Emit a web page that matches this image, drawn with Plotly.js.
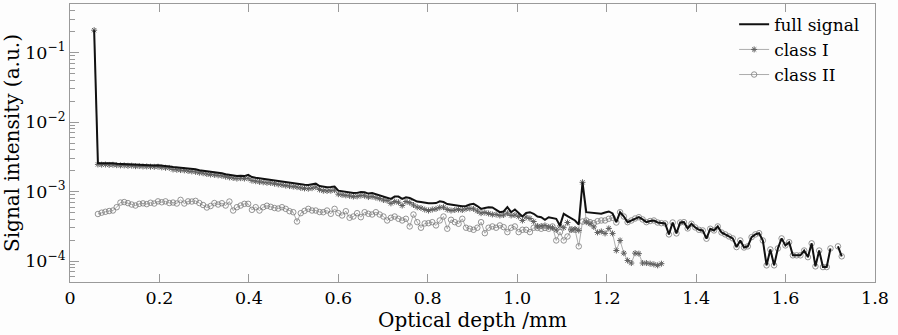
<!DOCTYPE html>
<html>
<head>
<meta charset="utf-8">
<script src="https://cdn.plot.ly/plotly-3.0.1.min.js"></script>
<style>html,body{margin:0;padding:0;background:#fdfdfd;}#chart{width:898px;height:335px;}</style>
</head>
<body>
<div id="chart"></div>
<script>
// Sampling grid of the depth axis (mm)
const depthStart = 0.054;
const depthStep = 0.0084;

// Full signal (a.u.)
const fullSignal = [
0.21,2.58e-3,2.56e-3,2.57e-3,2.54e-3,2.55e-3,2.52e-3,2.50e-3,2.50e-3,2.47e-3,
2.48e-3,2.44e-3,2.45e-3,2.42e-3,2.42e-3,2.40e-3,2.38e-3,2.39e-3,2.34e-3,2.31e-3,
2.30e-3,2.26e-3,2.24e-3,2.21e-3,2.19e-3,2.15e-3,2.12e-3,2.09e-3,2.03e-3,2.00e-3,
1.94e-3,1.91e-3,1.89e-3,1.86e-3,1.83e-3,1.78e-3,1.74e-3,1.70e-3,1.67e-3,1.69e-3,
1.67e-3,1.74e-3,1.62e-3,1.58e-3,1.55e-3,1.53e-3,1.50e-3,1.49e-3,1.46e-3,1.42e-3,
1.40e-3,1.37e-3,1.35e-3,1.32e-3,1.30e-3,1.27e-3,1.25e-3,1.24e-3,1.26e-3,1.30e-3,
1.20e-3,1.16e-3,1.15e-3,1.16e-3,1.18e-3,1.03e-3,1.01e-3,9.90e-4,9.74e-4,9.52e-4,
9.58e-4,9.84e-4,9.77e-4,9.36e-4,9.52e-4,9.18e-4,8.91e-4,8.48e-4,8.34e-4,7.86e-4,
8.48e-4,8.48e-4,7.86e-4,8.28e-4,8.07e-4,7.55e-4,7.19e-4,7.07e-4,6.88e-4,6.80e-4,
6.80e-4,6.84e-4,7.26e-4,7.07e-4,6.62e-4,6.45e-4,6.34e-4,6.26e-4,6.16e-4,6.20e-4,
6.51e-4,6.66e-4,6.20e-4,5.64e-4,5.80e-4,5.96e-4,5.90e-4,5.43e-4,5.05e-4,5.17e-4,
5.96e-4,5.05e-4,5.52e-4,4.92e-4,4.38e-4,4.92e-4,5.05e-4,4.79e-4,4.38e-4,4.28e-4,
3.93e-4,4.28e-4,4.17e-4,4.06e-4,3.26e-4,4.79e-4,4.45e-4,4.17e-4,3.84e-4,3.36e-4,
1.36e-3,5.05e-4,5.00e-4,4.89e-4,4.92e-4,4.79e-4,5.00e-4,5.17e-4,4.84e-4,3.63e-4,
5.05e-4,4.38e-4,3.63e-4,3.84e-4,4.10e-4,4.28e-4,3.97e-4,3.63e-4,3.77e-4,3.84e-4,
3.59e-4,3.51e-4,3.48e-4,2.42e-4,3.59e-4,2.50e-4,3.59e-4,3.63e-4,2.95e-4,3.44e-4,
3.05e-4,2.82e-4,2.76e-4,2.10e-4,2.92e-4,2.76e-4,3.15e-4,2.58e-4,2.42e-4,2.26e-4,
2.12e-4,1.59e-4,1.98e-4,1.57e-4,1.63e-4,2.21e-4,2.42e-4,2.52e-4,1.98e-4,8.68e-5,
1.47e-4,8.68e-5,1.52e-4,2.12e-4,1.68e-4,1.87e-4,1.21e-4,1.21e-4,1.21e-4,1.42e-4,
1.14e-4,1.80e-4,8.39e-5,1.42e-4,8.20e-5,8.20e-5,1.52e-4,null,1.63e-4,1.17e-4
];

// Class I (a.u.)
const classOne = [
0.21,2.46e-3,2.44e-3,2.45e-3,2.42e-3,2.43e-3,2.40e-3,2.38e-3,2.38e-3,2.35e-3,
2.36e-3,2.32e-3,2.33e-3,2.30e-3,2.30e-3,2.28e-3,2.27e-3,2.28e-3,2.23e-3,2.20e-3,
2.19e-3,2.08e-3,2.06e-3,2.04e-3,2.02e-3,1.98e-3,1.95e-3,1.92e-3,1.87e-3,1.84e-3,
1.79e-3,1.76e-3,1.74e-3,1.71e-3,1.69e-3,1.64e-3,1.60e-3,1.57e-3,1.54e-3,1.56e-3,
1.54e-3,1.55e-3,1.44e-3,1.41e-3,1.38e-3,1.36e-3,1.34e-3,1.33e-3,1.30e-3,1.27e-3,
1.25e-3,1.22e-3,1.20e-3,1.18e-3,1.16e-3,1.13e-3,1.11e-3,1.10e-3,1.12e-3,1.16e-3,
1.07e-3,1.03e-3,1.02e-3,1.03e-3,1.05e-3,9.18e-4,9.00e-4,8.82e-4,8.68e-4,8.48e-4,
8.54e-4,8.77e-4,8.71e-4,8.34e-4,8.48e-4,8.18e-4,7.94e-4,7.56e-4,7.43e-4,6.77e-4,
7.19e-4,7.02e-4,6.30e-4,7.19e-4,6.95e-4,6.41e-4,5.96e-4,5.80e-4,5.52e-4,5.34e-4,
5.52e-4,5.64e-4,5.90e-4,5.96e-4,5.52e-4,5.34e-4,5.43e-4,5.52e-4,5.43e-4,5.64e-4,
5.70e-4,5.64e-4,5.25e-4,4.89e-4,5.00e-4,4.84e-4,4.68e-4,4.68e-4,4.53e-4,4.60e-4,
4.89e-4,4.53e-4,4.60e-4,4.38e-4,3.84e-4,4.28e-4,4.10e-4,3.71e-4,3.18e-4,3.20e-4,
3.26e-4,3.10e-4,3.02e-4,2.80e-4,3.20e-4,3.02e-4,3.59e-4,2.82e-4,2.90e-4,2.76e-4,
1.36e-3,3.63e-4,3.44e-4,3.10e-4,2.58e-4,2.67e-4,2.50e-4,2.95e-4,2.50e-4,1.42e-4,
1.98e-4,1.30e-4,1.02e-4,9.37e-5,1.30e-4,1.28e-4,9.37e-5,9.37e-5,9.18e-5,8.97e-5,
8.68e-5,9.18e-5
];

// Class II (a.u.)
const classTwo = [
null,4.76e-4,4.97e-4,5.12e-4,5.25e-4,5.34e-4,5.96e-4,6.95e-4,7.07e-4,6.82e-4,
6.51e-4,6.30e-4,6.66e-4,6.77e-4,6.60e-4,6.91e-4,6.73e-4,7.23e-4,7.02e-4,7.23e-4,
6.84e-4,6.95e-4,6.73e-4,7.60e-4,6.73e-4,7.23e-4,7.19e-4,7.35e-4,6.84e-4,6.41e-4,
5.90e-4,6.20e-4,6.84e-4,6.51e-4,6.80e-4,6.30e-4,7.19e-4,5.34e-4,5.96e-4,6.30e-4,
6.66e-4,6.66e-4,5.46e-4,5.96e-4,5.34e-4,5.96e-4,6.26e-4,6.03e-4,5.80e-4,5.70e-4,
5.96e-4,5.64e-4,5.22e-4,5.05e-4,3.71e-4,4.89e-4,5.28e-4,5.64e-4,5.34e-4,5.34e-4,
5.08e-4,5.05e-4,5.34e-4,4.79e-4,5.64e-4,4.89e-4,4.53e-4,5.22e-4,4.20e-4,4.38e-4,
4.89e-4,4.28e-4,5.05e-4,4.79e-4,4.68e-4,5.05e-4,4.68e-4,4.38e-4,3.84e-4,4.20e-4,
4.38e-4,4.06e-4,3.84e-4,4.06e-4,3.15e-4,4.68e-4,3.63e-4,3.02e-4,3.48e-4,3.51e-4,
3.63e-4,3.26e-4,3.84e-4,4.38e-4,2.92e-4,3.93e-4,3.63e-4,3.44e-4,4.06e-4,3.02e-4,
2.92e-4,2.82e-4,3.02e-4,3.63e-4,2.52e-4,3.02e-4,3.15e-4,3.02e-4,3.26e-4,3.08e-4,
2.61e-4,3.02e-4,3.15e-4,2.61e-4,2.82e-4,2.82e-4,2.61e-4,3.02e-4,3.00e-4,2.92e-4,
3.00e-4,2.92e-4,3.15e-4,1.98e-4,2.61e-4,1.98e-4,2.26e-4,2.85e-4,2.82e-4,1.63e-4,
3.71e-4,3.84e-4,3.63e-4,3.51e-4,3.75e-4,3.84e-4,3.84e-4,4.06e-4,4.20e-4,3.59e-4,
5.05e-4,4.38e-4,3.63e-4,3.84e-4,4.10e-4,4.28e-4,3.97e-4,3.63e-4,3.77e-4,3.84e-4,
3.59e-4,3.51e-4,3.48e-4,2.42e-4,3.59e-4,2.50e-4,3.59e-4,3.63e-4,2.95e-4,3.44e-4,
3.05e-4,2.82e-4,2.76e-4,2.10e-4,2.92e-4,2.76e-4,3.15e-4,2.58e-4,2.42e-4,2.26e-4,
2.12e-4,1.59e-4,1.98e-4,1.57e-4,1.63e-4,2.21e-4,2.42e-4,2.52e-4,1.98e-4,8.68e-5,
1.47e-4,8.68e-5,1.52e-4,2.12e-4,1.68e-4,1.87e-4,1.21e-4,1.21e-4,1.21e-4,1.42e-4,
1.14e-4,1.80e-4,8.39e-5,1.42e-4,8.20e-5,8.20e-5,1.52e-4,null,1.63e-4,1.17e-4
];

const xTickVals = [0,0.2,0.4,0.6,0.8,1.0,1.2,1.4,1.6,1.8];
const xTickText = ['0','0.2','0.4','0.6','0.8','1.0','1.2','1.4','1.6','1.8'];
const yTickVals = [1e-4,1e-3,1e-2,1e-1];
const yTickText = ['10<sup>\u22124</sup>','10<sup>\u22123</sup>','10<sup>\u22122</sup>','10<sup>\u22121</sup>'];
const seriesNames = ['full signal','class I','class II'];

const FONT = 'DejaVu Serif';
const AX = '#9a9a9a';
const TXT = '#000000';

const traces = [
  {
    y: classTwo, x0: depthStart, dx: depthStep, name: seriesNames[2], legendrank: 3,
    type: 'scatter', mode: 'lines+markers', connectgaps: false,
    line: {color: '#8a8a8a', width: 0.7},
    marker: {symbol: 'circle-open', size: 5.5, color: '#7a7a7a', line: {width: 0.8, color: '#7a7a7a'}}
  },
  {
    y: classOne, x0: depthStart, dx: depthStep, name: seriesNames[1], legendrank: 2,
    type: 'scatter', mode: 'lines+markers',
    line: {color: '#8a8a8a', width: 0.7},
    marker: {symbol: 'asterisk-open', size: 5, color: '#606060', line: {width: 1, color: '#606060'}}
  },
  {
    y: fullSignal, x0: depthStart, dx: depthStep, name: seriesNames[0], legendrank: 1,
    type: 'scatter', mode: 'lines', connectgaps: false,
    line: {color: '#111111', width: 2}
  }
];

const layout = {
  width: 898, height: 335,
  margin: {l: 70, r: 23, t: 4, b: 53},
  paper_bgcolor: '#fdfdfd', plot_bgcolor: '#fdfdfd',
  font: {family: FONT, color: TXT, size: 17},
  showlegend: true,
  legend: {x: 0.825, y: 0.99, xanchor: 'left', yanchor: 'top', bgcolor: 'rgba(0,0,0,0)',
           borderwidth: 0, font: {family: FONT, size: 17, color: TXT}},
  xaxis: {
    range: [0, 1.8], tickvals: xTickVals, ticktext: xTickText,
    ticks: 'inside', ticklen: 8, tickwidth: 1, tickcolor: AX,
    showline: true, linecolor: AX, linewidth: 1, mirror: 'ticks',
    showgrid: false, zeroline: false,
    tickfont: {family: FONT, size: 17.5, color: TXT},
    title: {text: 'Optical depth /mm', font: {family: FONT, size: 20, color: TXT}, standoff: 4}
  },
  yaxis: {
    type: 'log', range: [-4.301, -0.301], tickvals: yTickVals, ticktext: yTickText,
    ticks: 'inside', ticklen: 9, tickwidth: 1, tickcolor: AX,
    minor: {ticks: 'inside', ticklen: 5, dtick: 'D1', tickcolor: AX, tickwidth: 1, showgrid: false},
    showline: true, linecolor: AX, linewidth: 1, mirror: true,
    showgrid: false, zeroline: false,
    tickfont: {family: FONT, size: 17.5, color: TXT},
    title: {text: 'Signal intensity (a.u.)', font: {family: FONT, size: 20, color: TXT}, standoff: 6}
  }
};

Plotly.newPlot('chart', traces, layout, {staticPlot: true, displayModeBar: false});
</script>
</body>
</html>
